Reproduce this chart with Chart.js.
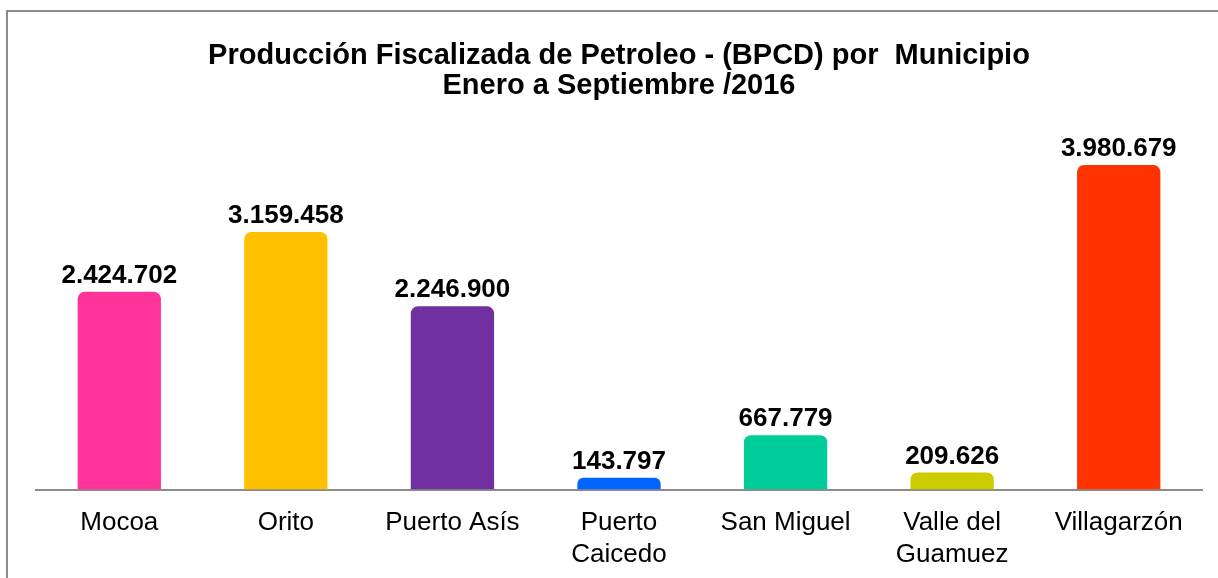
<!DOCTYPE html>
<html>
<head>
<meta charset="utf-8">
<script src="https://cdn.jsdelivr.net/npm/chart.js@4.4.1/dist/chart.umd.min.js"></script>
<style>
  html, body { margin: 0; padding: 0; background: #fff; overflow: hidden; }
  #wrap { position: relative; width: 1218px; height: 578px; }
</style>
</head>
<body>
<div id="wrap"><canvas id="grafico" width="1218" height="578"></canvas></div>
<script>
// Datos de la gráfica
const municipios = ["Mocoa", "Orito", "Puerto Asís", ["Puerto", "Caicedo"], "San Miguel", ["Valle del", "Guamuez"], "Villagarzón"];
const produccion = [2424702, 3159458, 2246900, 143797, 667779, 209626, 3980679];
const coloresBarras = ["#FF3399", "#FFC000", "#7030A0", "#0066FF", "#00CC99", "#CCCC00", "#FF3300"];
const tituloGrafico = ["Producción Fiscalizada de Petroleo - (BPCD) por  Municipio", "Enero a Septiembre /2016"];

const FUENTE = "'Liberation Sans', Arial, sans-serif";

function formatoMiles(v) {
    return String(v).replace(/\B(?=(\d{3})+(?!\d))/g, ".");
}

// marco gris (solo izquierda y arriba, como en la imagen original)
const marco = {
    id: "marco",
    beforeDraw(chart) {
        const c = chart.ctx;
        c.save();
        c.strokeStyle = "#8c8c8c";
        c.lineWidth = 2;
        c.beginPath();
        c.moveTo(7, chart.height);
        c.lineTo(7, 11);
        c.lineTo(chart.width, 11);
        c.stroke();
        c.restore();
    },
};

// etiquetas de valor encima de cada barra
const etiquetasValor = {
    id: "etiquetasValor",
    afterDatasetsDraw(chart) {
        const c = chart.ctx;
        c.save();
        c.font = "bold 26px " + FUENTE;
        c.fillStyle = "#000";
        c.textAlign = "center";
        c.textBaseline = "alphabetic";
        chart.getDatasetMeta(0).data.forEach((barra, i) => {
            c.fillText(formatoMiles(produccion[i]), barra.x, barra.y - 9);
        });
        c.restore();
    },
};

new Chart(document.getElementById("grafico"), {
    type: "bar",
    data: {
        labels: municipios,
        datasets: [{
            data: produccion,
            backgroundColor: coloresBarras,
            borderWidth: 0,
            borderRadius: { topLeft: 7, topRight: 7, bottomLeft: 0, bottomRight: 0 },
            borderSkipped: false,
            categoryPercentage: 1,
            barPercentage: 0.5,
        }],
    },
    options: {
        responsive: false,
        animation: false,
        events: [],
        layout: { padding: { left: 36, right: 16, top: 22, bottom: -10 } },
        plugins: {
            legend: { display: false },
            tooltip: { enabled: false },
            title: {
                display: true,
                text: tituloGrafico,
                color: "#000",
                font: { family: FUENTE, size: 29, weight: "bold", lineHeight: 1.04 },
                padding: { top: 19, bottom: 18 },
            },
        },
        scales: {
            x: {
                z: 1,
                grid: { display: false, drawTicks: false },
                border: { display: true, color: "#8c8c8c", width: 2 },
                ticks: { color: "#000", padding: 18, font: { family: FUENTE, size: 26, lineHeight: 1.2 }, maxRotation: 0, autoSkip: false },
            },
            y: {
                display: false,
                min: 0,
                max: 4540000,
            },
        },
    },
    plugins: [marco, etiquetasValor],
});
</script>
</body>
</html>
